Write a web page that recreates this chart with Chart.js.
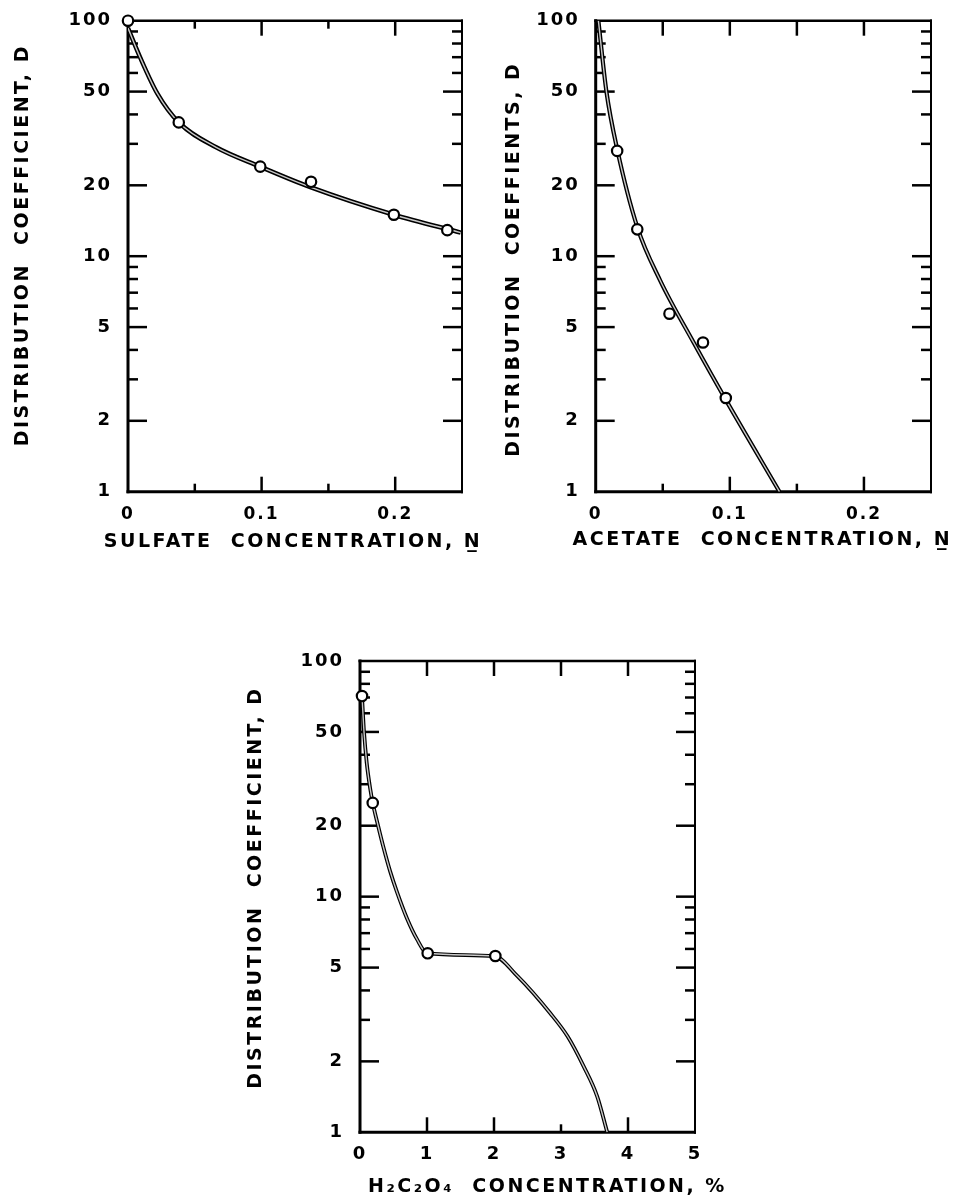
<!DOCTYPE html>
<html><head><meta charset="utf-8">
<script src="https://cdn.jsdelivr.net/npm/chart.js@4.4.1/dist/chart.umd.min.js"></script>
<style>
html,body{margin:0;padding:0;background:#fff;width:962px;height:1203px;overflow:hidden;position:relative;}
canvas{position:absolute;}
</style></head><body>
<canvas id="c1" width="480" height="610" style="left:0;top:-10px"></canvas>
<canvas id="c2" width="482" height="610" style="left:480px;top:-10px"></canvas>
<canvas id="c3" width="500" height="583" style="left:230px;top:620px"></canvas>
<script>
// ---------- data ----------
const sulfateConc = [0, 0.038, 0.099, 0.137, 0.199, 0.239];
const sulfateD = [100, 37, 24, 20.7, 15, 12.9];
const sulfateCurveConc = [0, 0.009, 0.022, 0.038, 0.066, 0.099, 0.137, 0.199, 0.249];
const sulfateCurveD = [93, 70, 49, 37, 29, 24, 19.6, 15, 12.6];

const acetateConc = [0.016, 0.031, 0.055, 0.080, 0.097];
const acetateD = [28, 13, 5.7, 4.3, 2.5];
const acetateCurveConc = [0.002, 0.008, 0.016, 0.031, 0.048, 0.073, 0.098, 0.137];
const acetateCurveD = [100, 50, 28.5, 13.3, 7.9, 4.3, 2.4, 1.0];

const oxalicConc = [0.03, 0.19, 1.01, 2.02];
const oxalicD = [71, 25, 5.75, 5.6];
const oxalicCurveConc = [0.03, 0.06, 0.1, 0.15, 0.19, 0.27, 0.35, 0.45, 0.55, 0.7, 0.85, 1.0, 2.0, 2.35, 2.84, 3.1, 3.34, 3.54, 3.69];
const oxalicCurveD = [71, 50, 37, 29, 25, 20, 16.2, 12.8, 10.5, 8.1, 6.6, 5.75, 5.6, 4.6, 3.2, 2.55, 1.9, 1.42, 1.0];

const yTickLabels = [1, 2, 5, 10, 20, 50, 100];
const yMajorMarks = [2, 5, 10, 20, 50];
const yMinorMarks = [3, 4, 6, 7, 8, 9, 30, 40, 60, 70, 80, 90];
const normalityTickLabels = [0, 0.1, 0.2];
const normalityMajorMarks = [0.1, 0.2];
const normalityMinorMarks = [0.05, 0.15];
const percentTickLabels = [0, 1, 2, 3, 4, 5];
const percentTopMarks = [1, 2, 3, 4];
const percentBottomMajorMarks = [1, 2, 4];
const percentBottomMinorMarks = [3];

const titles = {
  sulfateX: 'SULFATE  CONCENTRATION, N\u0332',
  acetateX: 'ACETATE  CONCENTRATION, N\u0332',
  oxalicX: 'H\u2082C\u2082O\u2084  CONCENTRATION, %',
  yA: 'DISTRIBUTION  COEFFICIENT, D',
  yB: 'DISTRIBUTION  COEFFIENTS, D'
};

// ---------- helpers ----------
const FONT = '"DejaVu Sans", "Liberation Sans", sans-serif';
const pts = (xs, ys) => xs.map((x, i) => ({x, y: ys[i]}));

const frameTicks = {
  id: 'frameTicks',
  beforeDraw(chart, args, o) { chart.ctx.letterSpacing = o.spacing; },
  beforeDatasetsDraw(chart, args, o) {
    const {ctx, chartArea: a, scales: {x, y}} = chart;
    ctx.save();
    ctx.strokeStyle = '#000';
    ctx.lineCap = 'butt';
    ctx.lineWidth = o.tickWidth;
    const seg = (x1, y1, x2, y2) => { ctx.beginPath(); ctx.moveTo(x1, y1); ctx.lineTo(x2, y2); ctx.stroke(); };
    o.yMajor.forEach(v => { const p = y.getPixelForValue(v); seg(a.left, p, a.left + o.yMajorLen, p); seg(a.right, p, a.right - o.yMajorLen, p); });
    o.yMinor.forEach(v => { const p = y.getPixelForValue(v); seg(a.left, p, a.left + o.yMinorLen, p); seg(a.right, p, a.right - o.yMinorLen, p); });
    o.topMajor.forEach(v => { const p = x.getPixelForValue(v); seg(p, a.top, p, a.top + o.xMajorLen); });
    o.topMinor.forEach(v => { const p = x.getPixelForValue(v); seg(p, a.top, p, a.top + o.xMinorLen); });
    o.bottomMajor.forEach(v => { const p = x.getPixelForValue(v); seg(p, a.bottom, p, a.bottom - o.xMajorLen); });
    o.bottomMinor.forEach(v => { const p = x.getPixelForValue(v); seg(p, a.bottom, p, a.bottom - o.xMinorLen); });
    ctx.lineWidth = 3; seg(a.left, a.top - 1.5, a.left, a.bottom + 1.5);
    ctx.lineWidth = 3; seg(a.left - 1.5, a.bottom, a.right + 1, a.bottom);
    ctx.lineWidth = 2.5; seg(a.left - 1.5, a.top, a.right + 1, a.top);
    ctx.lineWidth = 2; seg(a.right, a.top - 1.2, a.right, a.bottom + 1.5);
    ctx.restore();
  },
  afterDraw(chart, args, o) {
    const {ctx, chartArea: a} = chart;
    ctx.save();
    ctx.fillStyle = '#000';
    ctx.font = 'bold ' + o.captionSize + 'px ' + FONT;
    ctx.letterSpacing = o.captionSpacing;
    ctx.textAlign = 'center';
    ctx.textBaseline = 'middle';
    ctx.fillText(o.xTitle, (a.left + a.right) / 2 + o.xTitleDx, a.bottom + o.xTitleDy);
    ctx.translate(o.yTitleX, (a.top + a.bottom) / 2 + o.yTitleDy);
    ctx.rotate(-Math.PI / 2);
    ctx.fillText(o.yTitle, 0, 0);
    ctx.restore();
  }
};

function makeChart(id, c) {
  return new Chart(document.getElementById(id), {
    type: 'scatter',
    data: { datasets: [
      { data: pts(c.px, c.py), showLine: false, pointRadius: 5.2, pointBorderWidth: 2.2,
        pointBackgroundColor: '#fff', pointBorderColor: '#000', clip: false, order: 0 },
      { data: pts(c.cx, c.cy), showLine: true, borderColor: '#c8c8c8', borderWidth: c.inner,
        pointRadius: 0, cubicInterpolationMode: 'monotone', order: 1 },
      { data: pts(c.cx, c.cy), showLine: true, borderColor: '#000', borderWidth: c.outer,
        pointRadius: 0, cubicInterpolationMode: 'monotone', order: 2 }
    ]},
    options: {
      responsive: false, animation: false, events: [],
      layout: { padding: c.pad },
      plugins: {
        legend: { display: false }, tooltip: { enabled: false },
        frameTicks: Object.assign({
          spacing: '2px', tickWidth: 2.5, yMajorLen: 19, yMinorLen: 10, xMajorLen: 15, xMinorLen: 8,
          yMajor: yMajorMarks, yMinor: yMinorMarks, captionSize: 19, captionSpacing: '2.5px'
        }, c.frame)
      },
      scales: {
        x: {
          type: 'linear', min: 0, max: c.xmax,
          afterBuildTicks: s => { s.ticks = c.xLabels.map(v => ({value: v})); },
          afterFit: s => { s.height = c.xH; },
          grid: { display: false, drawTicks: false }, border: { display: false },
          ticks: { padding: c.xPad, color: '#000', autoSkip: false, maxRotation: 0,
                   font: { family: FONT, size: c.xSize, weight: c.xWeight }, callback: v => String(v) }
        },
        y: {
          type: 'logarithmic', min: 1, max: 100,
          afterBuildTicks: s => { s.ticks = yTickLabels.map(v => ({value: v})); },
          afterFit: s => { s.width = c.yW; },
          grid: { display: false, drawTicks: false }, border: { display: false },
          ticks: { padding: c.yPad, color: '#000', autoSkip: false,
                   font: { family: FONT, size: 18, weight: 'bold' }, callback: v => String(v) }
        }
      }
    },
    plugins: [frameTicks]
  });
}

makeChart('c1', {
  px: sulfateConc, py: sulfateD, cx: sulfateCurveConc, cy: sulfateCurveD,
  xmax: 0.25, xLabels: normalityTickLabels, xH: 62, xPad: 13, xWeight: 'bold', xSize: 17,
  yW: 128, yPad: 16, inner: 1.4, outer: 4.5,
  pad: { top: 30.7, left: 0, right: 18, bottom: 46.3 },
  frame: { topMajor: normalityMajorMarks, topMinor: normalityMinorMarks,
           bottomMajor: normalityMajorMarks, bottomMinor: normalityMinorMarks,
           xTitle: titles.sulfateX, xTitleDx: -2, xTitleDy: 50,
           yTitle: titles.yA, yTitleX: 23.5, yTitleDy: -11 }
});

makeChart('c2', {
  px: acetateConc, py: acetateD, cx: acetateCurveConc, cy: acetateCurveD,
  xmax: 0.25, xLabels: normalityTickLabels, xH: 62, xPad: 13, xWeight: 'bold', xSize: 17,
  yW: 115.7, yPad: 16, inner: 1.4, outer: 4.2,
  pad: { top: 30.7, left: 0, right: 31, bottom: 46.3 },
  frame: { topMajor: normalityMajorMarks.concat(normalityMinorMarks), topMinor: [],
           bottomMajor: normalityMajorMarks, bottomMinor: normalityMinorMarks,
           xTitle: titles.acetateX, xTitleDx: -1, xTitleDy: 48,
           yTitle: titles.yB, yTitleX: 34, yTitleDy: 3 }
});

makeChart('c3', {
  px: oxalicConc, py: oxalicD, cx: oxalicCurveConc, cy: oxalicCurveD,
  xmax: 5, xLabels: percentTickLabels, xH: 66, xPad: 11.5, xWeight: 'bold', xSize: 18,
  yW: 130, yPad: 16, inner: 1.4, outer: 3.8,
  pad: { top: 41, left: 0, right: 35, bottom: 4.7 },
  frame: { topMajor: percentTopMarks, topMinor: [],
           bottomMajor: percentBottomMajorMarks, bottomMinor: percentBottomMinorMarks,
           xTitle: titles.oxalicX, xTitleDx: 20, xTitleDy: 54.7,
           yTitle: titles.yA, yTitleX: 26, yTitleDy: -9 }
});
</script>
</body></html>
